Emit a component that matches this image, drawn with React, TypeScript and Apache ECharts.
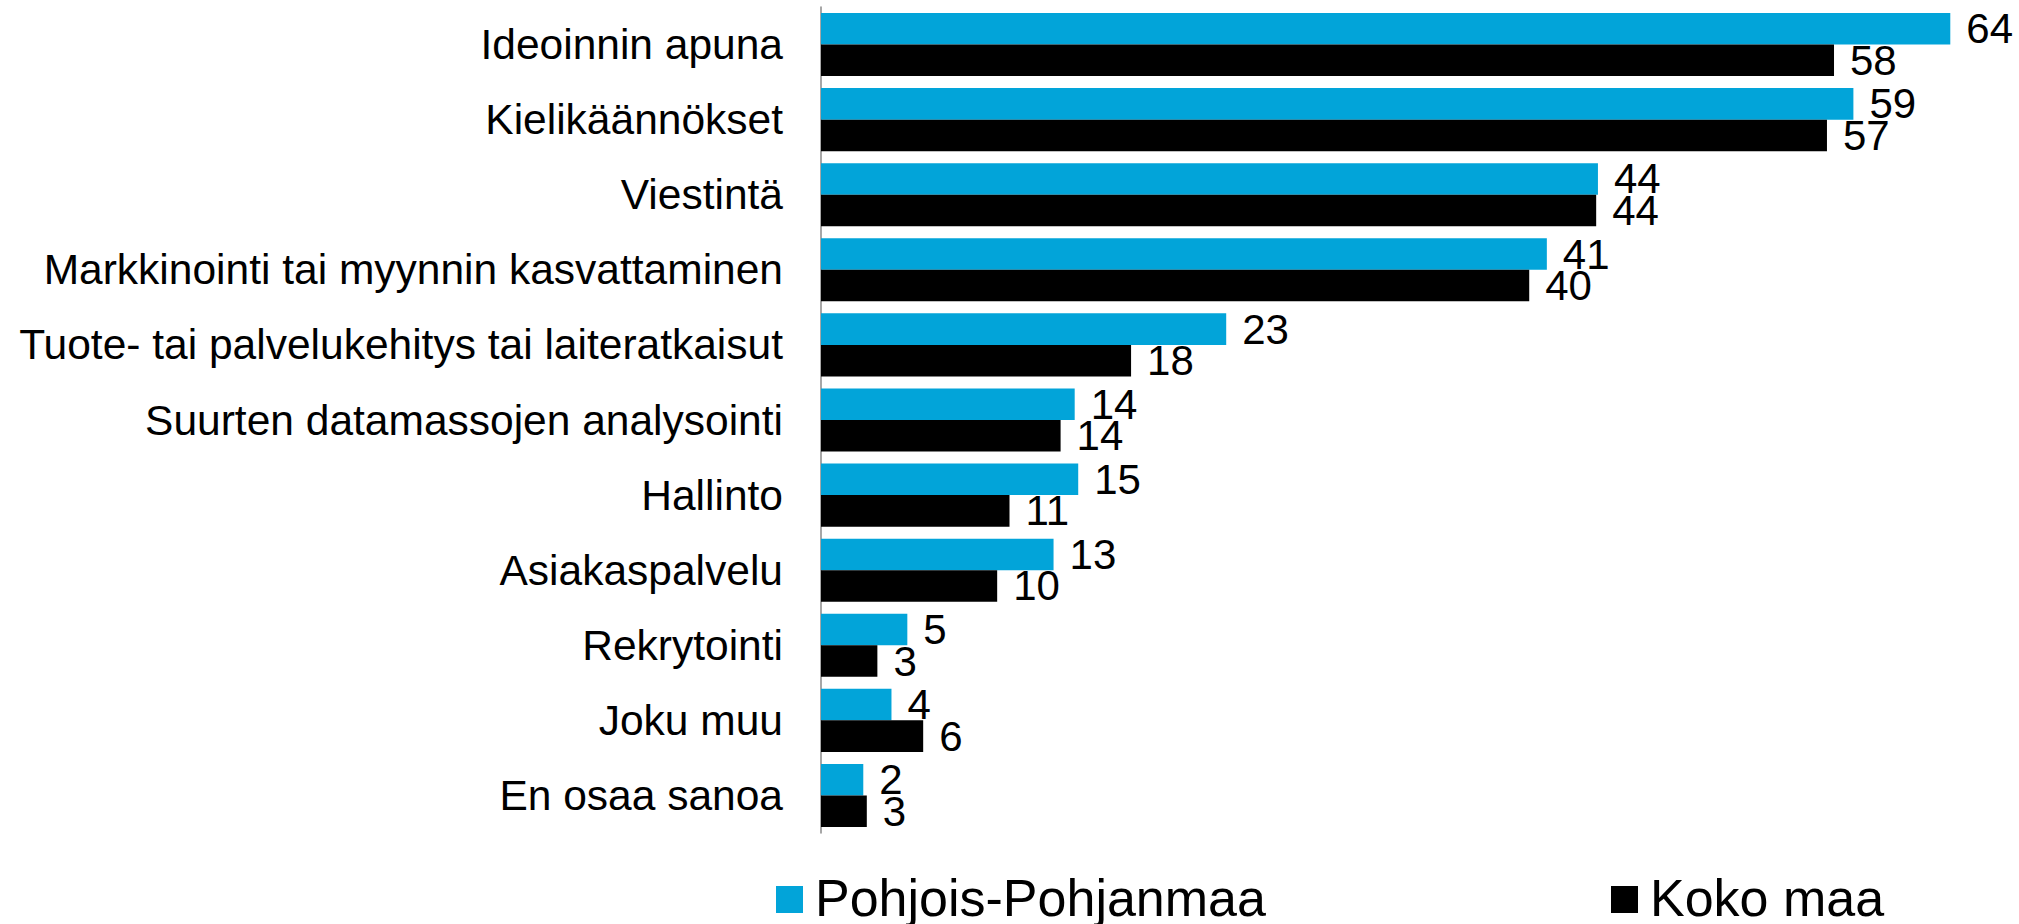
import React, { useEffect, useRef } from "react";
import * as echarts from "echarts";

const categories = [
  "Ideoinnin apuna",
  "Kielikäännökset",
  "Viestintä",
  "Markkinointi tai myynnin kasvattaminen",
  "Tuote- tai palvelukehitys tai laiteratkaisut",
  "Suurten datamassojen analysointi",
  "Hallinto",
  "Asiakaspalvelu",
  "Rekrytointi",
  "Joku muu",
  "En osaa sanoa",
];

const pohjoisPohjanmaa = [64.1, 58.6, 44.1, 41.2, 23.0, 14.4, 14.6, 13.2, 4.9, 4.0, 2.4];
const kokoMaa = [57.5, 57.1, 44.0, 40.2, 17.6, 13.6, 10.7, 10.0, 3.2, 5.8, 2.6];

const seriesNames = ["Pohjois-Pohjanmaa", "Koko maa"];
const seriesColors = ["#02A4D9", "#000000"];

const FONT = "'Liberation Sans', Arial, Helvetica, sans-serif";

export default function App() {
  const ref = useRef<HTMLDivElement>(null);

  useEffect(() => {
    if (!ref.current) return;
    const chart = echarts.init(ref.current, undefined, { renderer: "svg" });
    const labelCfg = {
      show: true,
      position: "right" as const,
      distance: 16,
      fontSize: 42,
      color: "#000",
      fontFamily: FONT,
      formatter: (p: any) => String(Math.round(p.value)),
    };
    const legendText = {
      fontSize: 52,
      color: "#000",
      fontFamily: FONT,
      rich: {
        t: {
          fontSize: 52,
          lineHeight: 52,
          color: "#000",
          fontFamily: FONT,
          padding: [0, 0, 3, 7],
        },
      },
    };
    const legendBase = {
      top: 872,
      padding: 0,
      icon: "rect",
      itemWidth: 27,
      itemHeight: 27,
      textStyle: legendText,
      formatter: (name: string) => `{t|${name}}`,
    };
    chart.setOption({
      animation: false,
      backgroundColor: "#ffffff",
      textStyle: { fontFamily: FONT },
      grid: { left: 821, right: 0, top: 7, bottom: 91, containLabel: false },
      legend: [
        { ...legendBase, data: [seriesNames[0]], left: 776 },
        { ...legendBase, data: [seriesNames[1]], left: 1611 },
      ],
      xAxis: {
        type: "value",
        min: 0,
        max: 68,
        show: false,
        splitLine: { show: false },
      },
      yAxis: {
        type: "category",
        data: categories,
        inverse: true,
        axisLine: { show: true, lineStyle: { color: "#8a8a8a", width: 1.5 } },
        axisTick: { show: false },
        axisLabel: {
          margin: 38,
          fontSize: 42.5,
          color: "#000",
          fontFamily: FONT,
        },
        splitLine: { show: false },
      },
      series: [
        {
          name: seriesNames[0],
          type: "bar",
          data: pohjoisPohjanmaa,
          itemStyle: { color: seriesColors[0] },
          barGap: "0%",
          barCategoryGap: "16%",
          label: labelCfg,
        },
        {
          name: seriesNames[1],
          type: "bar",
          data: kokoMaa,
          itemStyle: { color: seriesColors[1] },
          barGap: "0%",
          barCategoryGap: "16%",
          label: labelCfg,
        },
      ],
    });
    return () => chart.dispose();
  }, []);

  return (
    <div
      ref={ref}
      style={{ position: "absolute", left: 0, top: 0, width: 2019, height: 924 }}
    />
  );
}
